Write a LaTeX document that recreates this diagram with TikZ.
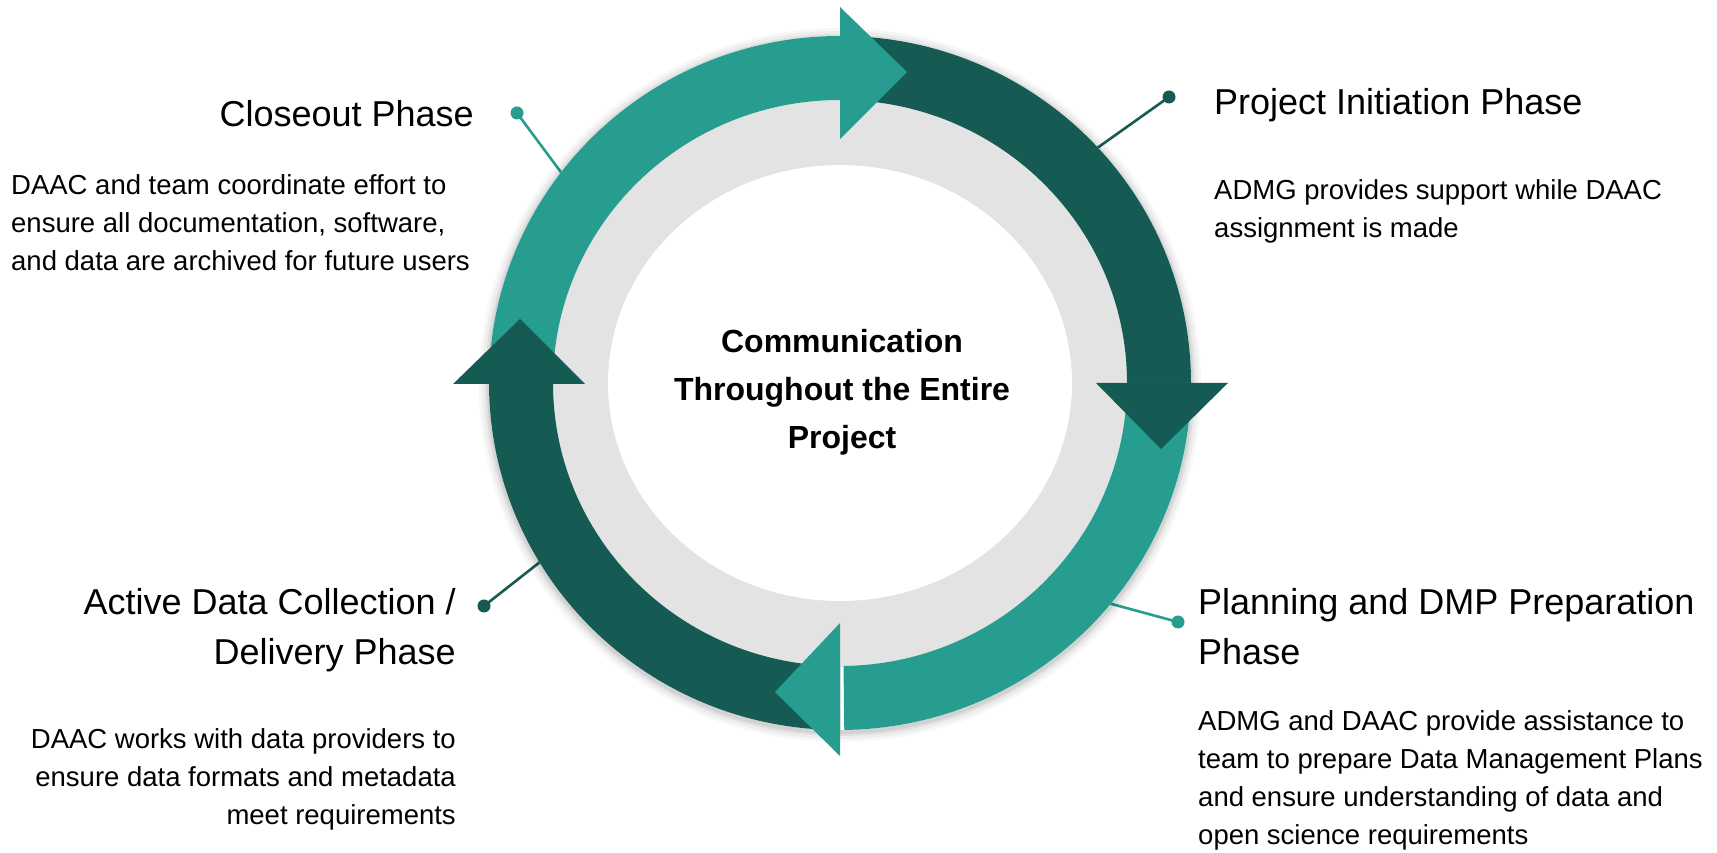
\documentclass[tikz,border=0pt]{standalone}
\usepackage{fontspec}
\setmainfont{Liberation Sans}
\definecolor{tealA}{HTML}{269D8F}
\definecolor{darkA}{HTML}{165B53}
\definecolor{ringgray}{HTML}{E3E3E3}
\tikzset{
  title/.style={font=\fontsize{36}{50}\selectfont, inner sep=0pt},
  body/.style={font=\fontsize{27.5}{38}\selectfont, inner sep=0pt},
  center/.style={font=\bfseries\fontsize{32}{48}\selectfont, inner sep=0pt, align=center},
  dot/.style={circle, inner sep=0pt, minimum size=13pt},
  conn/.style={line width=2.6pt},
}
\newcommand{\bandseg}[3]{%
  \fill[#3, shift={(840,469)}] (#1:351 and 347) arc[start angle=#1, end angle=#2, x radius=351, y radius=347]
    -- (#2:287 and 283) arc[start angle=#2, end angle=#1, x radius=287, y radius=283] -- cycle;}
\begin{document}
\begin{tikzpicture}[x=1pt,y=1pt]
\useasboundingbox (0,0) rectangle (1717,852);
\fill[white] (0,0) rectangle (1717,852);

% connectors (drawn first, end under the ring)
\node[dot, fill=tealA] (dcl) at (517,739) {};
\coordinate (rcl) at (566,673);
\node[dot, fill=darkA] (dpi) at (1169,755) {};
\coordinate (rpi) at (1093,701);
\node[dot, fill=darkA] (dad) at (484,246) {};
\coordinate (rad) at (540,290);
\node[dot, fill=tealA] (dpl) at (1178,230) {};
\coordinate (rpl) at (1108,249);
\draw[conn, tealA] (dcl.center) -- (rcl);
\draw[conn, darkA] (dpi.center) -- (rpi);
\draw[conn, darkA] (dad.center) -- (rad);
\draw[conn, tealA] (dpl.center) -- (rpl);

% soft shadow
\foreach \i/\o in {10/0.03,7/0.04,4/0.05,2/0.06}{
  \fill[black, opacity=\o] (840,467) ellipse [x radius=351+\i, y radius=347+\i];
}
% gray inner disc
\fill[white] (840,469) ellipse [x radius=351, y radius=347];
\fill[ringgray] (840,469) ellipse [x radius=288, y radius=284];
\fill[white] (840,469) ellipse [x radius=232, y radius=218];

% band bodies
\bandseg{180}{90}{tealA}
\bandseg{90}{0}{darkA}
\bandseg{0}{-89.3}{tealA}
\bandseg{-90}{-180}{darkA}

% arrow heads
\fill[tealA] (840,845) -- (907,780) -- (840,713) -- cycle;
\fill[darkA] (1096,469) -- (1228,469) -- (1161,403) -- cycle;
\fill[tealA] (840,229) -- (840,96) -- (775,160) -- cycle;
\fill[darkA] (453,468) -- (585,468) -- (520,533) -- cycle;

% center text (anchor = baseline of last line)
\node[center, anchor=base] (ctr) at (842,403) {Communication\\Throughout the Entire\\Project};

% phase texts (multi-line: anchor = baseline of last line)
\node[title, anchor=base east] (tcl) at (474,725) {Closeout Phase};
\node[body, anchor=base west, align=left] (bcl) at (11,581) {DAAC and team coordinate effort to\\ensure all documentation, software,\\and data are archived for future users};

\node[title, anchor=base west] (tpi) at (1214,737) {Project Initiation Phase};
\node[body, anchor=base west, align=left] (bpi) at (1214,614) {ADMG provides support while DAAC\\assignment is made};

\node[title, anchor=base east, align=right] (tad) at (456,187) {Active Data Collection /\\Delivery Phase};
\node[body, anchor=base east, align=right] (bad) at (456,28) {DAAC works with data providers to\\ensure data formats and metadata\\meet requirements};

\node[title, anchor=base west, align=left] (tpl) at (1198,187) {Planning and DMP Preparation\\Phase};
\node[body, anchor=base west, align=left] (bpl) at (1198,8) {ADMG and DAAC provide assistance to\\team to prepare Data Management Plans\\and ensure understanding of data and\\open science requirements};
\end{tikzpicture}
\end{document}
